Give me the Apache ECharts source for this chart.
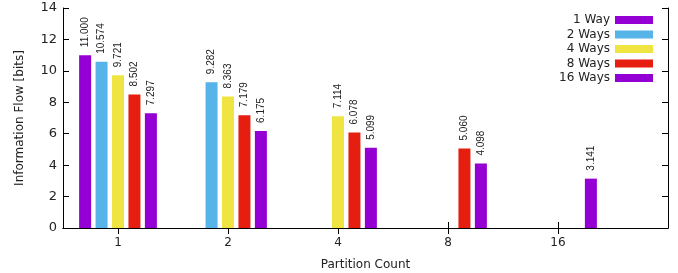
<!DOCTYPE html>
<html>
<head>
<meta charset="utf-8">
<script src="https://cdn.jsdelivr.net/npm/echarts@6/dist/echarts.min.js"></script>
<style>
  html, body { margin: 0; padding: 0; background: #fff; }
  #chart { width: 678px; height: 273px; }
</style>
</head>
<body>
<div id="chart"></div>
<script>
const partitions = ['1', '2', '4', '8', '16'];
const seriesNames = ['1 Way', '2 Ways', '4 Ways', '8 Ways', '16 Ways'];
const colors = ['#9400d3', '#56b4e9', '#f0e442', '#e51e10', '#9400d3'];

const oneWay = [11.000, null, null, null, null];
const twoWays = [10.574, 9.282, null, null, null];
const fourWays = [9.721, 8.363, 7.114, null, null];
const eightWays = [8.502, 7.179, 6.078, 5.060, null];
const sixteenWays = [7.297, 6.175, 5.099, 4.098, 3.141];

const yTicks = [0, 2, 4, 6, 8, 10, 12, 14];

// gnuplot-style x range: half a slot before the first group, a full slot after the last
const axisData = [''];
partitions.forEach(p => { axisData.push(p, ''); });
axisData.push('');
const spread = vals => {
    const out = axisData.map(() => null);
    vals.forEach((v, i) => { out[2 * i + 1] = v; });
    return out;
};

const chart = echarts.init(document.getElementById('chart'));
const font = 'DejaVu Sans';
const showTick = (i, v) => v !== '';

const option = {
    animation: false,
    textStyle: { fontFamily: font },
    grid: { left: 63, right: 10, top: 8, bottom: 45, outerBoundsMode: 'none', containLabel: false },
    legend: {
        orient: 'vertical',
        align: 'right',
        right: 20,
        top: 9,
        itemWidth: 38,
        itemHeight: 8,
        itemGap: 2.5,
        icon: 'rect',
        textStyle: { fontFamily: font, fontSize: 12, color: '#222' },
        data: seriesNames
    },
    xAxis: [{
        type: 'category',
        data: axisData,
        boundaryGap: false,
        name: 'Partition Count',
        nameLocation: 'middle',
        nameGap: 31,
        nameTextStyle: { fontFamily: font, fontSize: 12, color: '#222' },
        axisLine: { lineStyle: { color: '#000', width: 1 } },
        axisTick: { inside: true, length: 6, interval: showTick, lineStyle: { color: '#000' } },
        axisLabel: { interval: showTick, margin: 9, fontFamily: font, fontSize: 12, color: '#222' },
        splitLine: { show: false }
    }, {
        type: 'category',
        data: axisData,
        boundaryGap: false,
        position: 'top',
        axisLine: { lineStyle: { color: '#000', width: 1 } },
        axisTick: { inside: true, length: 6, interval: showTick, lineStyle: { color: '#000' } },
        axisLabel: { show: false },
        splitLine: { show: false }
    }],
    yAxis: [{
        type: 'value',
        min: yTicks[0],
        max: yTicks[yTicks.length - 1],
        interval: 2,
        name: 'Information Flow [bits]',
        nameLocation: 'middle',
        nameGap: 37,
        nameTextStyle: { fontFamily: font, fontSize: 12, color: '#222' },
        axisLine: { show: true, lineStyle: { color: '#000', width: 1 } },
        axisTick: { show: true, inside: true, length: 6, lineStyle: { color: '#000' } },
        axisLabel: { margin: 6, fontFamily: font, fontSize: 13, color: '#222' },
        splitLine: { show: false }
    }, {
        type: 'value',
        min: yTicks[0],
        max: yTicks[yTicks.length - 1],
        interval: 2,
        position: 'right',
        axisLine: { show: true, lineStyle: { color: '#000', width: 1 } },
        axisTick: { show: true, inside: true, length: 6, lineStyle: { color: '#000' } },
        axisLabel: { show: false },
        splitLine: { show: false }
    }],
    series: [oneWay, twoWays, fourWays, eightWays, sixteenWays].map((vals, k) => ({
        name: seriesNames[k],
        type: 'bar',
        data: spread(vals),
        barWidth: 12,
        barGap: '37%',
        itemStyle: { color: colors[k] },
        label: {
            show: true,
            position: 'top',
            rotate: 90,
            align: 'left',
            verticalAlign: 'middle',
            distance: 8,
            fontFamily: 'Liberation Sans',
            fontSize: 10,
            color: '#222',
            formatter: p => p.value.toFixed(3)
        }
    }))
};

chart.setOption(option);
window.addEventListener('resize', () => chart.resize());
</script>
</body>
</html>
